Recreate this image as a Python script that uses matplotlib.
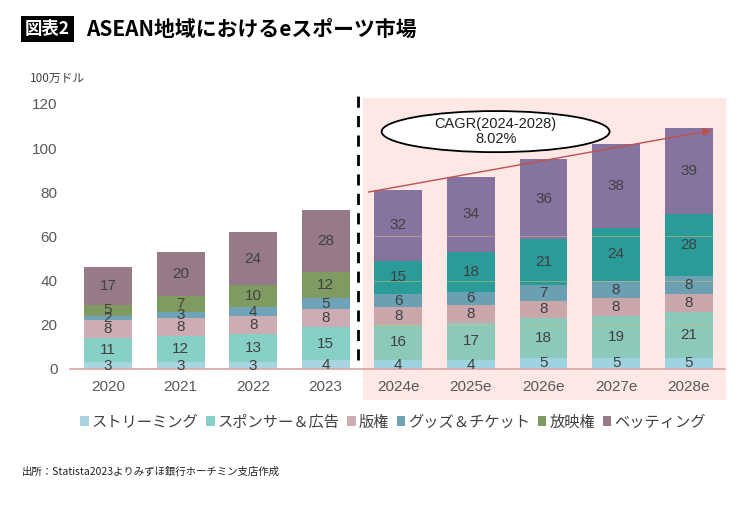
import matplotlib
matplotlib.use("Agg")
from matplotlib import pyplot as plt
from matplotlib.patches import Ellipse, Rectangle
import numpy as np

plt.rcParams['font.family'] = ['Noto Sans CJK JP', 'DejaVu Sans']

# data (million USD)
years = ['2020', '2021', '2022', '2023', '2024e', '2025e', '2026e', '2027e', '2028e']
series = ['ストリーミング', 'スポンサー＆広告', '版権', 'グッズ＆チケット', '放映権', 'ベッティング']
streaming = [3, 3, 3, 4, 4, 4, 5, 5, 5]
sponsor = [11, 12, 13, 15, 16, 17, 18, 19, 21]
rights = [8, 8, 8, 8, 8, 8, 8, 8, 8]
goods = [2, 3, 4, 5, 6, 6, 7, 8, 8]
broadcast = [5, 7, 10, 12, 15, 18, 21, 24, 28]
betting = [17, 20, 24, 28, 32, 34, 36, 38, 39]
values = [streaming, sponsor, rights, goods, broadcast, betting]

colors_hist = ['#a8d5e0', '#87d0c6', '#cdadb3', '#6ea3b8', '#7f9b62', '#977a88']
colors_fc = ['#9fd3df', '#8cc9bb', '#c9a6aa', '#6aa0b2', '#2a9b99', '#8674a0']

fig = plt.figure(figsize=(7.4, 5.28), dpi=100)
ax = fig.add_axes([70 / 740, (528 - 369) / 528, 655 / 740, 265 / 528])
ax.set_xlim(-0.523, 8.5)
ax.set_ylim(0, 120)

x = np.arange(len(years))
n_hist = 4
width = 0.66

# forecast background
ax.add_patch(Rectangle((3.51, -14.1), 5.0, 136.8, facecolor='#fde8e6',
                       edgecolor='none', zorder=0, clip_on=False))

bottom = np.zeros(len(years))
for k, vals in enumerate(values):
    vals = np.array(vals, dtype=float)
    cols = [colors_hist[k] if i < n_hist else colors_fc[k] for i in range(len(years))]
    ax.bar(x, vals, width, bottom=bottom, color=cols, zorder=2)
    for i in range(len(years)):
        ax.text(x[i], bottom[i] + vals[i] / 2, str(int(vals[i])), ha='center', va='center',
                fontsize=11, color='#404040', family='Liberation Sans', zorder=4)
    bottom += vals

# faint grid lines showing through the forecast bars
for i in range(n_hist, len(years)):
    for gy in [20, 40, 60]:
        if gy < bottom[i]:
            ax.plot([x[i] - width / 2, x[i] + width / 2], [gy, gy], color='#d8c27a',
                    lw=0.6, alpha=0.6, zorder=3)

# baseline
ax.plot([-0.523, 8.5], [0, 0], color='#d8a4a4', lw=1.2, zorder=3, clip_on=False)

# dashed separator
ax.plot([3.44, 3.44], [4, 123.6], color='black', lw=2, ls=(0, (4, 3)), zorder=5, clip_on=False)

# CAGR arrow and ellipse
ax.annotate('', xy=(8.35, 108.3), xytext=(3.55, 79.9),
            arrowprops=dict(arrowstyle='-|>', color='#c0504d', lw=1, mutation_scale=12),
            zorder=5, annotation_clip=False)
ax.add_patch(Ellipse((5.34, 107.5), 3.14, 18.6, facecolor='white', edgecolor='black',
                     lw=1.3, zorder=6, clip_on=False))
ax.text(5.34, 107.5, 'CAGR(2024-2028)\n8.02%', ha='center', va='center', fontsize=10.5,
        family='Liberation Sans', color='#222222', linespacing=1.1, zorder=7)

ax.set_xticks(x)
ax.set_xticklabels(years, family='Liberation Sans', fontsize=11, color='#595959')
ax.set_yticks(range(0, 121, 20))
ax.set_yticklabels([str(v) for v in range(0, 121, 20)], family='Liberation Sans',
                   fontsize=11, color='#595959')
ax.tick_params(length=0, pad=8)
ax.tick_params(axis='y', pad=9)
for s in ax.spines.values():
    s.set_visible(False)
ax.patch.set_visible(False)

# unit label
fig.text(30 / 740, 1 - 78 / 528, '100万ドル', fontsize=8.5, color='#404040', va='center')

# title
fig.text(25 / 740, 1 - 29 / 528, '図表2', fontsize=12.5, fontweight='bold', color='white',
         va='center', ha='left',
         bbox=dict(boxstyle='square,pad=0.25', facecolor='black', edgecolor='none'))
fig.text(86 / 740, 1 - 29 / 528, 'ASEAN地域におけるeスポーツ市場', fontsize=15,
         fontweight='bold', color='black', va='center', ha='left')

# legend
handles = [Rectangle((0, 0), 1, 1, facecolor=c, edgecolor='none') for c in colors_hist]
fig.legend(handles, series, loc='center', bbox_to_anchor=(393 / 740, 1 - 422 / 528), ncol=6,
           frameon=False, fontsize=11, handlelength=0.55, handleheight=0.55,
           handletextpad=0.2, columnspacing=0.5, labelcolor='#404040')

# source
fig.text(22 / 740, 1 - 472 / 528, '出所：Statista2023よりみずほ銀行ホーチミン支店作成',
         fontsize=7.5, color='#222222', va='center')

fig.savefig('out.png', dpi=100)
